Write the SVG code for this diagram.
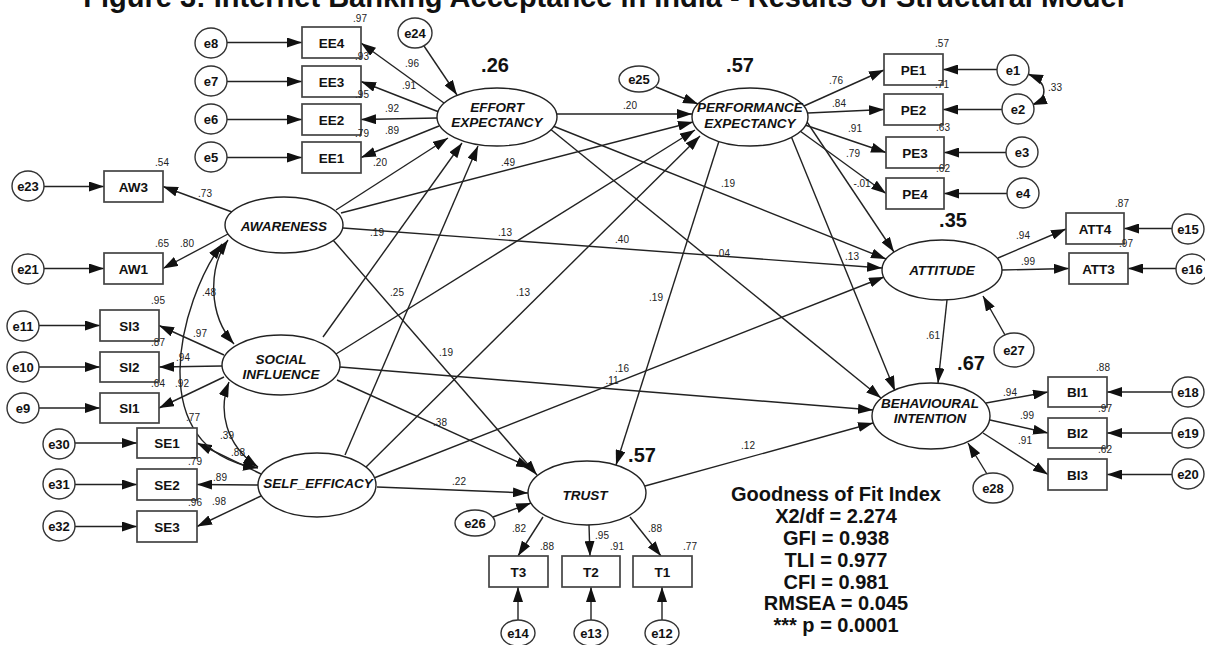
<svg xmlns="http://www.w3.org/2000/svg" width="1205" height="645" viewBox="0 0 1205 645">
<defs>
<marker id="a" viewBox="0 0 15 10" refX="15" refY="5" markerWidth="15" markerHeight="10" markerUnits="userSpaceOnUse" orient="auto-start-reverse"><path d="M0,0L15,5L0,10z" fill="#111"/></marker>
</defs>
<style>
.ln{stroke:#222;stroke-width:1.4;fill:none;marker-end:url(#a)}
.dbl{stroke:#222;stroke-width:1.4;fill:none;marker-end:url(#a);marker-start:url(#a)}
.bx{fill:#fff;stroke:#444;stroke-width:1.7}
.el{fill:#fff;stroke:#222;stroke-width:1.4}
.er{fill:#fff;stroke:#333;stroke-width:1.4}
text{font-family:"Liberation Sans",Arial,sans-serif;fill:#111}
.tt{font-size:29px;font-weight:bold;text-anchor:middle}
.lt{font-size:13.5px;font-weight:bold;font-style:italic;text-anchor:middle}
.bt{font-size:13.5px;font-weight:bold;text-anchor:middle}
.et{font-size:13px;font-weight:bold;text-anchor:middle}
.c{font-size:10px;text-anchor:middle;fill:#222}
.r2{font-size:20px;font-weight:bold;text-anchor:middle}
.gf{font-size:20px;font-weight:bold;text-anchor:middle}
</style>
<rect x="0" y="0" width="1205" height="645" fill="#fff"/>
<text class="tt" x="604" y="7">Figure 3: Internet Banking Acceptance in India - Results of Structural Model</text>

<g id="connectors">
<line class="ln" x1="227" y1="42.5" x2="302" y2="42.5"/>
<line class="ln" x1="227" y1="81.5" x2="302" y2="81.5"/>
<line class="ln" x1="227" y1="119.5" x2="302" y2="119.5"/>
<line class="ln" x1="227" y1="157.5" x2="302" y2="157.5"/>
<line class="ln" x1="44" y1="186.5" x2="104" y2="186.5"/>
<line class="ln" x1="44" y1="268.5" x2="104" y2="268.5"/>
<line class="ln" x1="39" y1="325.5" x2="100" y2="325.5"/>
<line class="ln" x1="39" y1="367" x2="100" y2="367"/>
<line class="ln" x1="39" y1="408" x2="100" y2="408"/>
<line class="ln" x1="75" y1="443" x2="137" y2="443"/>
<line class="ln" x1="75" y1="484.5" x2="137" y2="484.5"/>
<line class="ln" x1="75" y1="526.5" x2="137" y2="526.5"/>
<line class="ln" x1="997" y1="69.5" x2="943" y2="69.5"/>
<line class="ln" x1="1002" y1="109.5" x2="943" y2="109.5"/>
<line class="ln" x1="1006" y1="152.5" x2="944" y2="152.5"/>
<line class="ln" x1="1007" y1="193.5" x2="944" y2="193.5"/>
<line class="ln" x1="1172" y1="228.5" x2="1124" y2="228.5"/>
<line class="ln" x1="1176" y1="268.5" x2="1128" y2="268.5"/>
<line class="ln" x1="1172" y1="392" x2="1107" y2="392"/>
<line class="ln" x1="1172" y1="433" x2="1107" y2="433"/>
<line class="ln" x1="1172" y1="474.5" x2="1107" y2="474.5"/>
<line class="ln" x1="518" y1="620" x2="518" y2="587"/>
<line class="ln" x1="591" y1="620" x2="591" y2="587"/>
<line class="ln" x1="662" y1="620" x2="662" y2="587"/>
<line class="ln" x1="444" y1="103" x2="361" y2="43"/>
<line class="ln" x1="439" y1="112" x2="361" y2="81.5"/>
<line class="ln" x1="437" y1="118" x2="361" y2="119.5"/>
<line class="ln" x1="439" y1="126" x2="361" y2="157.5"/>
<line class="ln" x1="232" y1="212" x2="163" y2="186.5"/>
<line class="ln" x1="228" y1="234" x2="163" y2="268.5"/>
<line class="ln" x1="224" y1="355" x2="159" y2="325.5"/>
<line class="ln" x1="222" y1="366" x2="159" y2="367"/>
<line class="ln" x1="224" y1="377" x2="159" y2="408"/>
<line class="ln" x1="261" y1="474" x2="197" y2="443"/>
<line class="ln" x1="258" y1="485" x2="197" y2="484.5"/>
<line class="ln" x1="261" y1="496" x2="197" y2="526.5"/>
<line class="ln" x1="804" y1="106" x2="884" y2="70"/>
<line class="ln" x1="808" y1="113" x2="884" y2="109.5"/>
<line class="ln" x1="805" y1="125" x2="886" y2="152.5"/>
<line class="ln" x1="800" y1="131" x2="886" y2="193.5"/>
<line class="ln" x1="998" y1="258" x2="1066" y2="229"/>
<line class="ln" x1="1002" y1="270" x2="1069" y2="268.5"/>
<line class="ln" x1="986" y1="403" x2="1048" y2="392"/>
<line class="ln" x1="990" y1="420" x2="1048" y2="433"/>
<line class="ln" x1="983" y1="433" x2="1048" y2="474.5"/>
<line class="ln" x1="543" y1="517" x2="518" y2="556"/>
<line class="ln" x1="589" y1="525" x2="590" y2="556"/>
<line class="ln" x1="630" y1="517" x2="661" y2="556"/>
<line class="ln" x1="557" y1="114" x2="692" y2="114"/>
<line class="ln" x1="341" y1="213" x2="693" y2="122"/>
<line class="ln" x1="336" y1="354" x2="695" y2="130"/>
<line class="ln" x1="364" y1="469" x2="700" y2="136"/>
<line class="ln" x1="336" y1="210" x2="448" y2="138"/>
<line class="ln" x1="323" y1="337" x2="462" y2="143"/>
<line class="ln" x1="345" y1="455" x2="478" y2="146"/>
<line class="ln" x1="553" y1="126" x2="886" y2="259"/>
<line class="ln" x1="343" y1="228" x2="882" y2="268"/>
<line class="ln" x1="374" y1="478" x2="884" y2="277"/>
<line class="ln" x1="807" y1="122" x2="894" y2="252"/>
<line class="ln" x1="791" y1="136" x2="895" y2="391"/>
<line class="ln" x1="549" y1="128" x2="881" y2="398"/>
<line class="ln" x1="340" y1="367" x2="873" y2="410"/>
<line class="ln" x1="645" y1="486" x2="873" y2="423"/>
<line class="ln" x1="947" y1="300" x2="938" y2="383"/>
<line class="ln" x1="333" y1="240" x2="537" y2="475"/>
<line class="ln" x1="337" y1="380" x2="531" y2="468"/>
<line class="ln" x1="377" y1="487" x2="528" y2="493"/>
<line class="ln" x1="719" y1="141" x2="616" y2="465"/>
<line class="ln" x1="424" y1="46" x2="457" y2="95"/>
<line class="ln" x1="656" y1="87" x2="698" y2="104"/>
<line class="ln" x1="493" y1="517" x2="531" y2="503"/>
<line class="ln" x1="1005" y1="335" x2="983" y2="296"/>
<line class="ln" x1="987" y1="474" x2="968" y2="443"/>
<path class="dbl" d="M228,240 C208,268 208,315 234,344"/>
<path class="dbl" d="M222,244 C180,300 140,450 258,468"/>
<path class="dbl" d="M229,382 C218,410 225,445 258,467"/>
<path class="dbl" d="M1028,74 C1048,82 1049,98 1032,105"/>
</g>

<g id="EE"><ellipse class="el" cx="497" cy="117" rx="60" ry="29"/><text class="lt" x="497" y="112">EFFORT</text><text class="lt" x="497" y="127">EXPECTANCY</text></g>
<g id="PE"><ellipse class="el" cx="750" cy="117" rx="58" ry="29"/><text class="lt" x="750" y="112">PERFORMANCE</text><text class="lt" x="750" y="128">EXPECTANCY</text></g>
<g id="AW"><ellipse class="el" cx="284" cy="225" rx="59" ry="28"/><text class="lt" x="284" y="231">AWARENESS</text></g>
<g id="SI"><ellipse class="el" cx="281" cy="365" rx="59" ry="30"/><text class="lt" x="281" y="364">SOCIAL</text><text class="lt" x="281" y="379">INFLUENCE</text></g>
<g id="SE"><ellipse class="el" cx="317" cy="485" rx="59" ry="32"/><text class="lt" x="318" y="488">SELF_EFFICACY</text></g>
<g id="ATT"><ellipse class="el" cx="942" cy="270" rx="60" ry="30"/><text class="lt" x="942" y="275">ATTITUDE</text></g>
<g id="BI"><ellipse class="el" cx="931" cy="416" rx="59" ry="33"/><text class="lt" x="930" y="408">BEHAVIOURAL</text><text class="lt" x="930" y="423">INTENTION</text></g>
<g id="TRUST"><ellipse class="el" cx="587" cy="493" rx="59" ry="32"/><text class="lt" x="585" y="500">TRUST</text></g>

<g id="EE4"><rect class="bx" x="302" y="27" width="59" height="31"/><text class="bt" x="331.5" y="47.5">EE4</text></g>
<g id="EE3"><rect class="bx" x="302" y="66" width="59" height="31"/><text class="bt" x="331.5" y="86.5">EE3</text></g>
<g id="EE2"><rect class="bx" x="302" y="104" width="59" height="31"/><text class="bt" x="331.5" y="124.5">EE2</text></g>
<g id="EE1"><rect class="bx" x="302" y="142" width="59" height="31"/><text class="bt" x="331.5" y="162.5">EE1</text></g>
<g id="AW3"><rect class="bx" x="104" y="171" width="59" height="31"/><text class="bt" x="133.5" y="191.5">AW3</text></g>
<g id="AW1"><rect class="bx" x="104" y="253" width="59" height="31"/><text class="bt" x="133.5" y="273.5">AW1</text></g>
<g id="SI3"><rect class="bx" x="100" y="310" width="59" height="31"/><text class="bt" x="129.5" y="330.5">SI3</text></g>
<g id="SI2"><rect class="bx" x="100" y="352" width="59" height="30"/><text class="bt" x="129.5" y="372">SI2</text></g>
<g id="SI1"><rect class="bx" x="100" y="393" width="59" height="30"/><text class="bt" x="129.5" y="413">SI1</text></g>
<g id="SE1"><rect class="bx" x="137" y="428" width="60" height="30"/><text class="bt" x="167" y="448">SE1</text></g>
<g id="SE2"><rect class="bx" x="137" y="469" width="60" height="31"/><text class="bt" x="167" y="489.5">SE2</text></g>
<g id="SE3"><rect class="bx" x="137" y="511" width="60" height="31"/><text class="bt" x="167" y="531.5">SE3</text></g>
<g id="PE1"><rect class="bx" x="884" y="54" width="59" height="31"/><text class="bt" x="913.5" y="74.5">PE1</text></g>
<g id="PE2"><rect class="bx" x="884" y="94" width="59" height="31"/><text class="bt" x="913.5" y="114.5">PE2</text></g>
<g id="PE3"><rect class="bx" x="886" y="137" width="58" height="31"/><text class="bt" x="915" y="157.5">PE3</text></g>
<g id="PE4"><rect class="bx" x="886" y="178" width="58" height="31"/><text class="bt" x="915" y="198.5">PE4</text></g>
<g id="ATT4"><rect class="bx" x="1066" y="213" width="58" height="31"/><text class="bt" x="1095" y="233.5">ATT4</text></g>
<g id="ATT3"><rect class="bx" x="1069" y="253" width="59" height="31"/><text class="bt" x="1098.5" y="273.5">ATT3</text></g>
<g id="BI1"><rect class="bx" x="1048" y="377" width="59" height="30"/><text class="bt" x="1077.5" y="397">BI1</text></g>
<g id="BI2"><rect class="bx" x="1048" y="418" width="59" height="30"/><text class="bt" x="1077.5" y="438">BI2</text></g>
<g id="BI3"><rect class="bx" x="1048" y="459" width="59" height="31"/><text class="bt" x="1077.5" y="479.5">BI3</text></g>
<g id="T3"><rect class="bx" x="489" y="556" width="59" height="31"/><text class="bt" x="518.5" y="576.5">T3</text></g>
<g id="T2"><rect class="bx" x="562" y="556" width="58" height="31"/><text class="bt" x="591" y="576.5">T2</text></g>
<g id="T1"><rect class="bx" x="633" y="556" width="59" height="31"/><text class="bt" x="662.5" y="576.5">T1</text></g>

<g id="e8"><ellipse class="er" cx="211" cy="43" rx="16" ry="15"/><text class="et" x="211" y="47.5">e8</text></g>
<g id="e7"><ellipse class="er" cx="211" cy="81" rx="16" ry="15"/><text class="et" x="211" y="85.5">e7</text></g>
<g id="e6"><ellipse class="er" cx="211" cy="119" rx="16" ry="15"/><text class="et" x="211" y="123.5">e6</text></g>
<g id="e5"><ellipse class="er" cx="211" cy="157" rx="16" ry="15"/><text class="et" x="211" y="161.5">e5</text></g>
<g id="e23"><ellipse class="er" cx="28" cy="186" rx="16" ry="15"/><text class="et" x="28" y="190.5">e23</text></g>
<g id="e21"><ellipse class="er" cx="28" cy="269" rx="16" ry="15"/><text class="et" x="28" y="273.5">e21</text></g>
<g id="e11"><ellipse class="er" cx="23" cy="326" rx="16" ry="15"/><text class="et" x="23" y="330.5">e11</text></g>
<g id="e10"><ellipse class="er" cx="23" cy="367" rx="16" ry="15"/><text class="et" x="23" y="371.5">e10</text></g>
<g id="e9"><ellipse class="er" cx="23" cy="408" rx="16" ry="15"/><text class="et" x="23" y="412.5">e9</text></g>
<g id="e30"><ellipse class="er" cx="59" cy="444" rx="16" ry="15"/><text class="et" x="59" y="448.5">e30</text></g>
<g id="e31"><ellipse class="er" cx="59" cy="484" rx="16" ry="15"/><text class="et" x="59" y="488.5">e31</text></g>
<g id="e32"><ellipse class="er" cx="59" cy="526" rx="16" ry="15"/><text class="et" x="59" y="530.5">e32</text></g>
<g id="e24"><ellipse class="er" cx="415" cy="33" rx="17" ry="15"/><text class="et" x="415" y="37.5">e24</text></g>
<g id="e25"><ellipse class="er" cx="639" cy="79" rx="20" ry="13"/><text class="et" x="639" y="83.5">e25</text></g>
<g id="e1"><ellipse class="er" cx="1013" cy="70" rx="16" ry="15"/><text class="et" x="1013" y="74.5">e1</text></g>
<g id="e2"><ellipse class="er" cx="1018" cy="109" rx="16" ry="15"/><text class="et" x="1018" y="113.5">e2</text></g>
<g id="e3"><ellipse class="er" cx="1022" cy="152" rx="16" ry="15"/><text class="et" x="1022" y="156.5">e3</text></g>
<g id="e4"><ellipse class="er" cx="1023" cy="193" rx="16" ry="15"/><text class="et" x="1023" y="197.5">e4</text></g>
<g id="e15"><ellipse class="er" cx="1188" cy="229" rx="16" ry="15"/><text class="et" x="1188" y="233.5">e15</text></g>
<g id="e16"><ellipse class="er" cx="1192" cy="269" rx="16" ry="15"/><text class="et" x="1192" y="273.5">e16</text></g>
<g id="e27"><ellipse class="er" cx="1014" cy="350" rx="20" ry="17"/><text class="et" x="1014" y="354.5">e27</text></g>
<g id="e18"><ellipse class="er" cx="1188" cy="392" rx="16" ry="15"/><text class="et" x="1188" y="396.5">e18</text></g>
<g id="e19"><ellipse class="er" cx="1188" cy="433" rx="16" ry="15"/><text class="et" x="1188" y="437.5">e19</text></g>
<g id="e20"><ellipse class="er" cx="1188" cy="474" rx="16" ry="15"/><text class="et" x="1188" y="478.5">e20</text></g>
<g id="e28"><ellipse class="er" cx="993" cy="488" rx="20" ry="15"/><text class="et" x="993" y="492.5">e28</text></g>
<g id="e26"><ellipse class="er" cx="475" cy="523" rx="20" ry="13"/><text class="et" x="475" y="527.5">e26</text></g>
<g id="e14"><ellipse class="er" cx="518" cy="633" rx="17" ry="13"/><text class="et" x="518" y="637.5">e14</text></g>
<g id="e13"><ellipse class="er" cx="591" cy="633" rx="17" ry="13"/><text class="et" x="591" y="637.5">e13</text></g>
<g id="e12"><ellipse class="er" cx="662" cy="633" rx="17" ry="13"/><text class="et" x="662" y="637.5">e12</text></g>

<g id="r2">
<text class="r2" x="495" y="72">.26</text>
<text class="r2" x="740" y="72">.57</text>
<text class="r2" x="953" y="227">.35</text>
<text class="r2" x="971" y="370">.67</text>
<text class="r2" x="642" y="462">.57</text>
</g>

<g id="labels">
<text class="c" x="360" y="21.5">.97</text>
<text class="c" x="362" y="59.5">.93</text>
<text class="c" x="362" y="97.5">.95</text>
<text class="c" x="362" y="136.5">.79</text>
<text class="c" x="412" y="66.5">.96</text>
<text class="c" x="409" y="88.5">.91</text>
<text class="c" x="392" y="111.5">.92</text>
<text class="c" x="392" y="133.5">.89</text>
<text class="c" x="380" y="165.5">.20</text>
<text class="c" x="162" y="165.5">.54</text>
<text class="c" x="205" y="196.5">.73</text>
<text class="c" x="162" y="246.5">.65</text>
<text class="c" x="187" y="246.5">.80</text>
<text class="c" x="158" y="303.5">.95</text>
<text class="c" x="200" y="336.5">.97</text>
<text class="c" x="158" y="345.5">.87</text>
<text class="c" x="183" y="360.5">.94</text>
<text class="c" x="158" y="386.5">.64</text>
<text class="c" x="182" y="386.5">.92</text>
<text class="c" x="193" y="420.5">.77</text>
<text class="c" x="227" y="438.5">.39</text>
<text class="c" x="238" y="455.5">.88</text>
<text class="c" x="195" y="464.5">.79</text>
<text class="c" x="220" y="480.5">.89</text>
<text class="c" x="195" y="505.5">.96</text>
<text class="c" x="219" y="504.5">.98</text>
<text class="c" x="209" y="295.5">.48</text>
<text class="c" x="630" y="108.5">.20</text>
<text class="c" x="508" y="165.5">.49</text>
<text class="c" x="728" y="186.5">.19</text>
<text class="c" x="377" y="235.5">.19</text>
<text class="c" x="505" y="235.5">.13</text>
<text class="c" x="622" y="242.5">.40</text>
<text class="c" x="723" y="256.5">.04</text>
<text class="c" x="852" y="259.5">.13</text>
<text class="c" x="397" y="295.5">.25</text>
<text class="c" x="523" y="295.5">.13</text>
<text class="c" x="656" y="300.5">.19</text>
<text class="c" x="446" y="355.5">.19</text>
<text class="c" x="622" y="371.5">.16</text>
<text class="c" x="612" y="383.5">.11</text>
<text class="c" x="440" y="425.5">.38</text>
<text class="c" x="459" y="484.5">.22</text>
<text class="c" x="748" y="448.5">.12</text>
<text class="c" x="933" y="338.5">.61</text>
<text class="c" x="942" y="46.5">.57</text>
<text class="c" x="942" y="87.5">.71</text>
<text class="c" x="943" y="130.5">.63</text>
<text class="c" x="943" y="171.5">.62</text>
<text class="c" x="836" y="83.5">.76</text>
<text class="c" x="839" y="106.5">.84</text>
<text class="c" x="855" y="131.5">.91</text>
<text class="c" x="853" y="156.5">.79</text>
<text class="c" x="862" y="186.5">-.01</text>
<text class="c" x="1055" y="90.5">.33</text>
<text class="c" x="1122" y="206.5">.87</text>
<text class="c" x="1126" y="246.5">.97</text>
<text class="c" x="1023" y="238.5">.94</text>
<text class="c" x="1028" y="264.5">.99</text>
<text class="c" x="1103" y="370.5">.88</text>
<text class="c" x="1105" y="411.5">.97</text>
<text class="c" x="1105" y="452.5">.62</text>
<text class="c" x="1010" y="395.5">.94</text>
<text class="c" x="1027" y="418.5">.99</text>
<text class="c" x="1025" y="443.5">.91</text>
<text class="c" x="519" y="531.5">.82</text>
<text class="c" x="547" y="549.5">.88</text>
<text class="c" x="602" y="538.5">.95</text>
<text class="c" x="617" y="549.5">.91</text>
<text class="c" x="655" y="531.5">.88</text>
<text class="c" x="690" y="549.5">.77</text>
</g>

<g id="fit">
<text class="gf" x="836" y="501">Goodness of Fit Index</text>
<text class="gf" x="836" y="523">X2/df = 2.274</text>
<text class="gf" x="836" y="545">GFI = 0.938</text>
<text class="gf" x="836" y="566.5">TLI = 0.977</text>
<text class="gf" x="836" y="588.5">CFI = 0.981</text>
<text class="gf" x="836" y="610">RMSEA = 0.045</text>
<text class="gf" x="836" y="632">*** p = 0.0001</text>
</g>
</svg>
